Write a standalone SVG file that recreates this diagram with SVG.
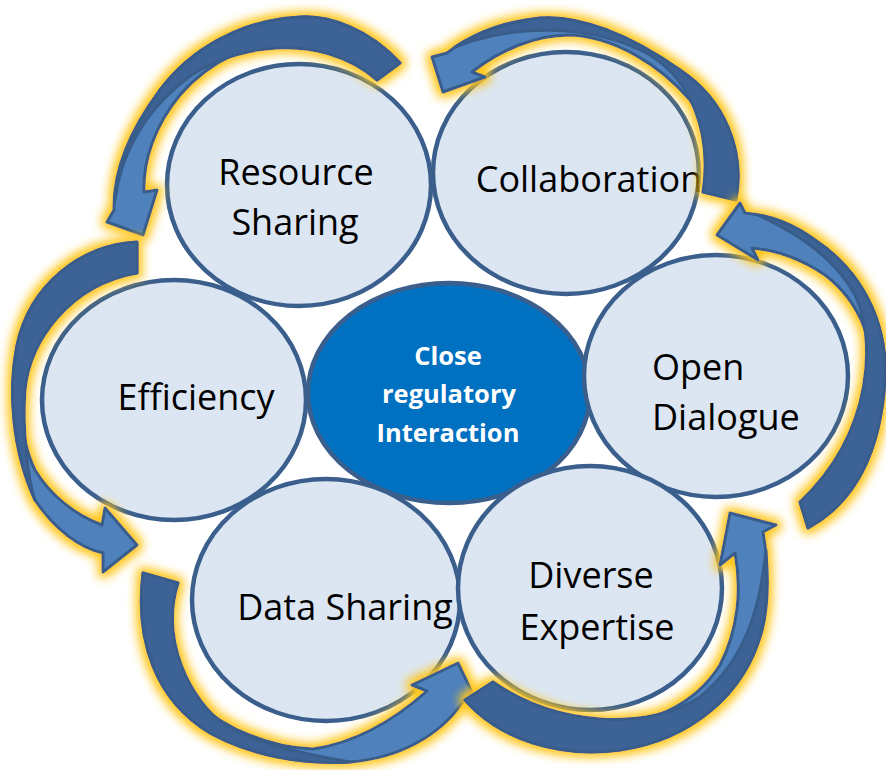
<svg xmlns="http://www.w3.org/2000/svg" width="886" height="770" viewBox="0 0 886 770">
<defs>
<style>
.node{fill:#dce6f2;stroke:#3b5f8d;stroke-width:4.5}
.core{fill:#0070c0;stroke:#3b5f8d;stroke-width:4.5}
.lbl{font-family:"Open Sans","Noto Sans","Liberation Sans",sans-serif;font-size:36px;fill:#000}
.clbl{font-family:"Open Sans","Noto Sans","Liberation Sans",sans-serif;font-size:25.5px;font-weight:bold;fill:#fff;text-anchor:middle}
.mid{text-anchor:middle}
.front{fill:#4f81bd;stroke:#385d8a;stroke-width:3;stroke-linejoin:round}
.back{fill:#3e6496;stroke:#385d8a;stroke-width:3;stroke-linejoin:round}
.arrow{filter:url(#glow)}
</style>
<filter id="glow" x="-30%" y="-30%" width="160%" height="160%">
<feMorphology in="SourceAlpha" operator="dilate" radius="4" result="d"/>
<feGaussianBlur in="d" stdDeviation="5" result="b"/>
<feFlood flood-color="#ffc61a" flood-opacity="1"/>
<feComposite in2="b" operator="in" result="g"/>
<feMerge><feMergeNode in="g"/><feMergeNode in="SourceGraphic"/></feMerge>
</filter>
</defs>
<rect width="886" height="770" fill="#fff"/>

<g id="resource-sharing">
<ellipse class="node" cx="299" cy="185" rx="132" ry="121"/>
<text class="lbl mid" x="296" y="185">Resource</text>
<text class="lbl mid" x="295" y="235">Sharing</text>
</g>
<g id="collaboration">
<ellipse class="node" cx="566" cy="173" rx="133" ry="121"/>
<text class="lbl mid" x="589" y="192">Collaboration</text>
</g>
<g id="efficiency">
<ellipse class="node" cx="174" cy="400" rx="132" ry="120"/>
<text class="lbl mid" x="196" y="410">Efficiency</text>
</g>
<g id="center">
<ellipse class="core" cx="449" cy="393" rx="141" ry="110"/>
<text class="clbl" x="448" y="365">Close</text>
<text class="clbl" x="449" y="403">regulatory</text>
<text class="clbl" x="448" y="442">Interaction</text>
</g>
<g id="open-dialogue">
<ellipse class="node" cx="716" cy="376" rx="132" ry="121"/>
<text class="lbl" x="652" y="380">Open</text>
<text class="lbl" x="652" y="430">Dialogue</text>
</g>
<g id="data-sharing">
<ellipse class="node" cx="326" cy="600" rx="134" ry="121"/>
<text class="lbl mid" x="345" y="620">Data Sharing</text>
</g>
<g id="diverse-expertise">
<ellipse class="node" cx="590" cy="588" rx="132" ry="122"/>
<text class="lbl mid" x="591" y="588">Diverse</text>
<text class="lbl mid" x="597" y="640">Expertise</text>
</g>

<g id="connectors">
<g class="arrow" id="arrow-collab-to-resource">
<path class="front" d="M736,200 C745,150 725,100 680,70 C630,35 580,15 540,18 C500,22 470,35 447,53 L432,57 L443,92 L485,77 L472,72 C500,50 535,35 570,35 C615,37 660,65 690,100 C712,128 718,165 703,192 Z"/>
<path class="back" d="M736,200 C745,150 725,100 680,70 C630,35 580,15 540,18 C505,22 478,33 455,47 C510,25 590,22 650,55 C690,80 712,130 703,192 Z"/>
</g>
<g class="arrow" id="arrow-resource-to-efficiency">
<path class="front" d="M400,63 C370,30 330,15 300,17 C240,20 190,50 160,90 C130,130 113,170 114,210 L107,222 L143,235 L157,190 L144,192 C143,160 155,125 180,95 C210,60 255,40 300,38 C335,37 360,55 377,80 Z"/>
<path class="back" d="M400,63 C370,30 330,15 300,17 C240,20 190,50 160,90 C135,125 118,165 115,200 C120,160 140,115 185,80 C230,45 320,30 377,80 Z"/>
</g>
<g class="arrow" id="arrow-efficiency-to-data">
<path class="front" d="M137,242 C80,245 30,285 17,345 C8,390 12,450 35,500 C55,530 80,548 103,553 L103,572 L137,545 L105,508 L102,525 C75,515 50,495 35,470 C18,435 18,385 30,350 C45,305 85,275 137,273 Z"/>
<path class="back" d="M137,242 C80,245 30,285 17,345 C8,390 12,450 35,500 C28,480 22,430 25,390 C30,340 70,285 137,273 Z"/>
</g>
<g class="arrow" id="arrow-data-to-diverse">
<path class="front" d="M143,573 C135,640 155,700 210,733 C250,755 300,765 350,762 C400,758 440,735 462,703 L472,692 L458,663 L412,685 L427,691 C400,715 360,742 313,749 C270,748 225,728 200,705 C170,670 160,620 178,583 Z"/>
<path class="back" d="M143,573 C135,640 155,700 210,733 C250,755 300,765 350,762 C310,755 260,745 225,725 C190,700 160,640 178,583 Z"/>
</g>
<g class="arrow" id="arrow-diverse-to-open">
<path class="front" d="M465,700 C500,740 560,758 620,750 C690,740 745,695 762,630 C770,600 768,560 763,532 L776,525 L730,513 L720,565 L735,553 C742,590 738,630 720,665 C695,705 650,725 600,726 C560,727 520,712 493,682 Z"/>
<path class="back" d="M465,700 C500,740 560,758 620,750 C690,740 745,695 762,630 C768,605 767,575 766,550 C760,610 745,660 700,697 C650,730 560,728 493,682 Z"/>
</g>
<g class="arrow" id="arrow-open-to-collab">
<path class="front" d="M808,528 C850,505 880,460 885,380 C888,320 860,270 815,240 C795,225 770,215 745,213 L740,203 L717,235 L758,260 L752,248 C775,250 800,258 825,275 C858,300 875,340 872,380 C870,430 850,480 800,502 Z"/>
<path class="back" d="M808,528 C850,505 880,460 885,380 C888,320 860,270 815,240 C795,226 775,218 758,215 C785,228 830,250 855,295 C875,335 876,430 800,502 Z"/>
</g>
</g>
</svg>
